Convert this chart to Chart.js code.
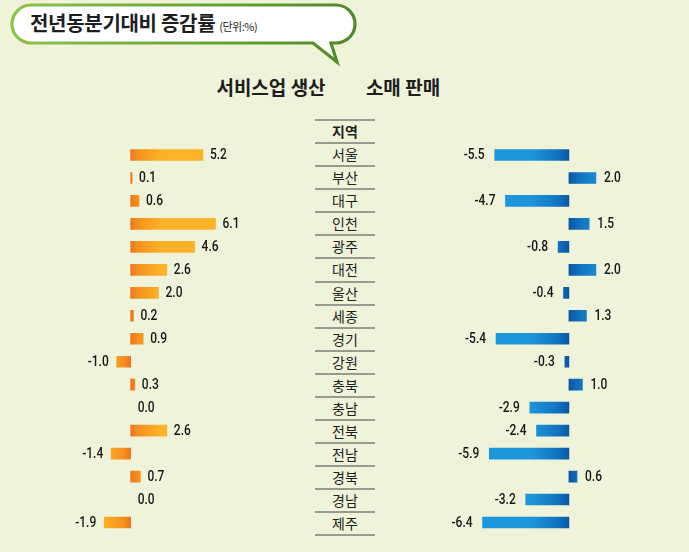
<!DOCTYPE html>
<html>
<head>
<meta charset="utf-8">
<script src="https://cdn.jsdelivr.net/npm/chart.js@4.4.1/dist/chart.umd.min.js"></script>
<style>
  html, body { margin:0; padding:0; }
  body { width:689px; height:552px; background:#eef3da; position:relative; overflow:hidden;
         font-family:"Noto Sans CJK KR","Noto Sans",sans-serif; color:#1e1e1e; }
  #bubble { position:absolute; left:0; top:0; }
  #title { position:absolute; left:30px; top:9px; font-size:20px; font-weight:700; letter-spacing:-0.3px; white-space:nowrap; line-height:28px; }
  #title small { font-size:11px; font-weight:400; letter-spacing:-0.5px; margin-left:4px; }
  .head { position:absolute; top:73px; font-size:19px; font-weight:700; white-space:nowrap; transform:translateX(-50%); line-height:28px; }
  #center { position:absolute; left:315px; top:119px; width:60px; }
  .row { height:21.09px; border-top:2px solid #9a9b90; text-align:center; font-size:14px; line-height:21px; }
  .row.last { height:0; }
  .row.hdr { font-weight:700; }
  canvas { position:absolute; top:0; }
</style>
</head>
<body>
<svg id="bubble" width="360" height="70">
  <defs>
    <linearGradient id="bg" x1="0" x2="1" y1="0" y2="0">
      <stop offset="0" stop-color="#8cc448"/>
      <stop offset="1" stop-color="#4f8a29"/>
    </linearGradient>
  </defs>
  <path d="M31,5 H336 A19,19 0 0 1 336,43 H331 L337,62 L313,43 H31 A19,19 0 0 1 31,5 Z"
        fill="#ffffff" stroke="url(#bg)" stroke-width="3.2" stroke-linejoin="miter"/>
</svg>
<div id="title">전년동분기대비 증감률<small>(단위:%)</small></div>
<div class="head" id="h1" style="left:271px;"></div>
<div class="head" id="h2" style="left:403px;"></div>
<div id="center"></div>
<canvas id="left" width="310" height="552" style="left:0;width:310px;height:552px;"></canvas>
<canvas id="right" width="309" height="552" style="left:380px;width:309px;height:552px;"></canvas>
<script>
const seriesNames = ['서비스업 생산', '소매 판매'];
const headerLabel = '지역';
const categories = ['서울','부산','대구','인천','광주','대전','울산','세종','경기','강원','충북','충남','전북','전남','경북','경남','제주'];
const serviceValues = [5.2, 0.1, 0.6, 6.1, 4.6, 2.6, 2.0, 0.2, 0.9, -1.0, 0.3, 0.0, 2.6, -1.4, 0.7, 0.0, -1.9];
const retailValues = [-5.5, 2.0, -4.7, 1.5, -0.8, 2.0, -0.4, 1.3, -5.4, -0.3, 1.0, -2.9, -2.4, -5.9, 0.6, -3.2, -6.4];

document.getElementById('h1').textContent = seriesNames[0];
document.getElementById('h2').textContent = seriesNames[1];

const center = document.getElementById('center');
[headerLabel, ...categories].forEach((c, i) => {
  const d = document.createElement('div');
  d.className = 'row' + (i === 0 ? ' hdr' : '');
  d.textContent = c;
  center.appendChild(d);
});
const last = document.createElement('div'); last.className = 'row last'; center.appendChild(last);

const LABEL_FONT = '500 15px Roboto, "Liberation Sans", sans-serif';
const SQUEEZE = 0.8;

function gradientFill(stops, len) {
  return function(ctx) {
    const chart = ctx.chart;
    const v = ctx.raw;
    if (v === 0) return 'rgba(0,0,0,0)';
    if (!chart.chartArea) return stops[stops.length - 1][1];
    const x0 = chart.scales.x.getPixelForValue(0);
    const dir = v >= 0 ? 1 : -1;
    const g = chart.ctx.createLinearGradient(x0, 0, x0 + dir * len, 0);
    stops.forEach(s => g.addColorStop(s[0], s[1]));
    return g;
  };
}

const valueLabels = {
  id: 'valueLabels',
  afterDatasetsDraw(chart, args, opts) {
    const ctx = chart.ctx;
    const vals = chart.data.datasets[0].data;
    const meta = chart.getDatasetMeta(0);
    ctx.save();
    ctx.font = LABEL_FONT;
    ctx.fillStyle = '#161616';
    ctx.textBaseline = 'middle';
    meta.data.forEach((bar, i) => {
      const v = vals[i];
      const t = v.toFixed(1);
      const pos = v >= 0;
      const x = pos ? bar.x + opts.posOff : bar.x - opts.negOff;
      ctx.save();
      ctx.translate(x, bar.y + 0.5);
      ctx.scale(SQUEEZE, 1);
      ctx.textAlign = pos ? 'left' : 'right';
      ctx.fillText(t, 0, 0);
      ctx.restore();
    });
    ctx.restore();
  }
};

function makeChart(id, values, stops, len, min, max, posOff, negOff) {
  return new Chart(document.getElementById(id), {
    type: 'bar',
    data: {
      labels: categories,
      datasets: [{
        data: values,
        backgroundColor: gradientFill(stops, len),
        borderWidth: 0,
        barThickness: 11
      }]
    },
    options: {
      indexAxis: 'y',
      responsive: false,
      animation: false,
      devicePixelRatio: 1,
      layout: { padding: { top: 143.5, bottom: 18, left: 0, right: 0 } },
      scales: {
        x: { display: false, min: min, max: max },
        y: { display: false }
      },
      plugins: {
        legend: { display: false },
        tooltip: { enabled: false },
        valueLabels: { posOff: posOff, negOff: negOff }
      }
    },
    plugins: [valueLabels]
  });
}

makeChart('left', serviceValues, [[0, '#ee741b'], [0.25, '#f5921f'], [1, '#fdb227']], 30, -9.4, 12.9, 7, 8);
makeChart('right', retailValues, [[0, '#0c56a4'], [0.3, '#1274c0'], [1, '#1d96dc']], 38, -14.0, 8.9, 8, 10);
</script>
</body>
</html>
